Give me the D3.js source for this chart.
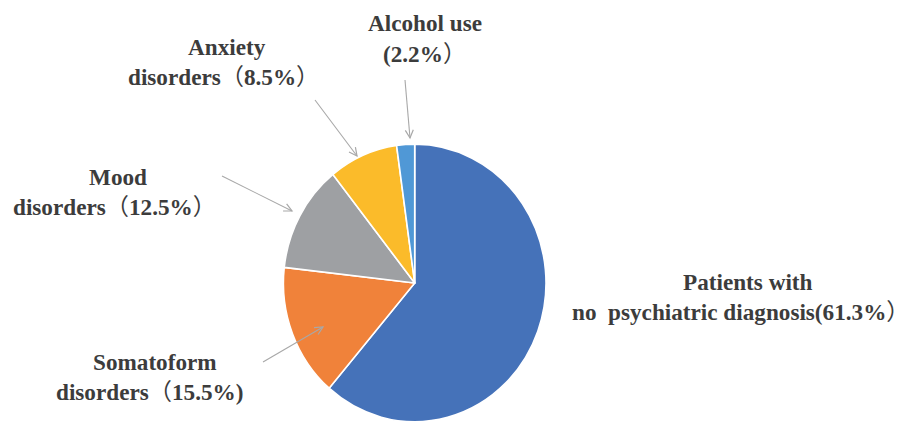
<!DOCTYPE html>
<html>
<head>
<meta charset="utf-8">
<script src="https://cdn.jsdelivr.net/npm/d3@7/dist/d3.min.js"></script>
<style>
  html, body { margin: 0; padding: 0; background: #ffffff; }
  svg { display: block; }
</style>
</head>
<body>
<svg id="chart" width="912" height="423"></svg>
<script>
// ---- data ----
const categories = [
  "Patients with no psychiatric diagnosis",
  "Somatoform disorders",
  "Mood disorders",
  "Anxiety disorders",
  "Alcohol use"
];
const values = [61.3, 15.5, 12.5, 8.5, 2.2];
const labelLines = [
  ["Patients with", "no  psychiatric diagnosis(61.3%\uFF09"],
  ["Somatoform", "disorders\uFF0815.5%)"],
  ["Mood", "disorders\uFF0812.5%\uFF09"],
  ["Anxiety", "disorders\uFF088.5%\uFF09"],
  ["Alcohol use", "(2.2%\uFF09"]
];

// ---- styles / layout ----
const colors = ["#4572B9", "#F0823A", "#9EA0A3", "#FBBB2A", "#5098D6"];
const cx = 414.7, cy = 283, rx = 131.3, ry = 138.8;
// label line anchors [x, baseline] per line
const labelPos = [
  [[683, 290], [572, 320]],
  [[93, 370], [56, 400]],
  [[89, 185], [13, 215]],
  [[188, 55], [128, 85]],
  [[368, 31], [383, 62]]
];
// arrows: [x1, y1, x2, y2] (null = none)
const arrows = [
  null,
  [263, 362, 323, 327],
  [222, 176, 292, 211],
  [315, 100, 357, 156],
  [405, 80, 410, 138]
];

const svg = d3.select("#chart");

const defs = svg.append("defs");
defs.append("marker")
  .attr("id", "arrowhead")
  .attr("viewBox", "-10 -6 12 12")
  .attr("refX", 0).attr("refY", 0)
  .attr("markerWidth", 12).attr("markerHeight", 12)
  .attr("markerUnits", "userSpaceOnUse")
  .attr("orient", "auto")
  .append("path")
  .attr("d", "M-8,-4 L0,0 L-8,4")
  .attr("fill", "none")
  .attr("stroke", "#a8a8a8")
  .attr("stroke-width", 1.2);

const pie = d3.pie().sort(null).value(d => d)(values);
const arc = d3.arc().innerRadius(0).outerRadius(rx);

const g = svg.append("g")
  .attr("transform", `translate(${cx},${cy}) scale(1,${ry / rx})`);

g.selectAll("path.slice")
  .data(pie)
  .join("path")
  .attr("class", "slice")
  .attr("d", arc)
  .attr("fill", (d, i) => colors[i])
  .attr("stroke", "#ffffff")
  .attr("stroke-width", 1.6)
  .attr("stroke-linejoin", "round");

// arrows
svg.selectAll("line.arrow")
  .data(arrows.filter(a => a))
  .join("line")
  .attr("class", "arrow")
  .attr("x1", d => d[0]).attr("y1", d => d[1])
  .attr("x2", d => d[2]).attr("y2", d => d[3])
  .attr("stroke", "#a8a8a8")
  .attr("stroke-width", 1.1)
  .attr("marker-end", "url(#arrowhead)");

// labels: split full-width characters into their own tspans
categories.forEach((c, i) => {
  labelLines[i].forEach((line, j) => {
    const t = svg.append("text")
      .attr("x", labelPos[i][j][0])
      .attr("y", labelPos[i][j][1])
      .attr("text-anchor", "start")
      .style("white-space", "pre")
      .style("font-family", '"Liberation Serif"')
      .style("font-weight", "bold")
      .style("font-size", "23.2px")
      .style("fill", "#3c3c3c");
    const parts = line.split(/([\uFF08\uFF09])/).filter(s => s.length);
    parts.forEach(p => {
      const cjk = /[\uFF08\uFF09]/.test(p);
      t.append("tspan")
        .style("font-family", cjk ? '"Noto Sans CJK SC"' : '"Liberation Serif"')
        .style("font-weight", cjk ? "normal" : "bold")
        .text(p);
    });
  });
});
</script>
</body>
</html>
